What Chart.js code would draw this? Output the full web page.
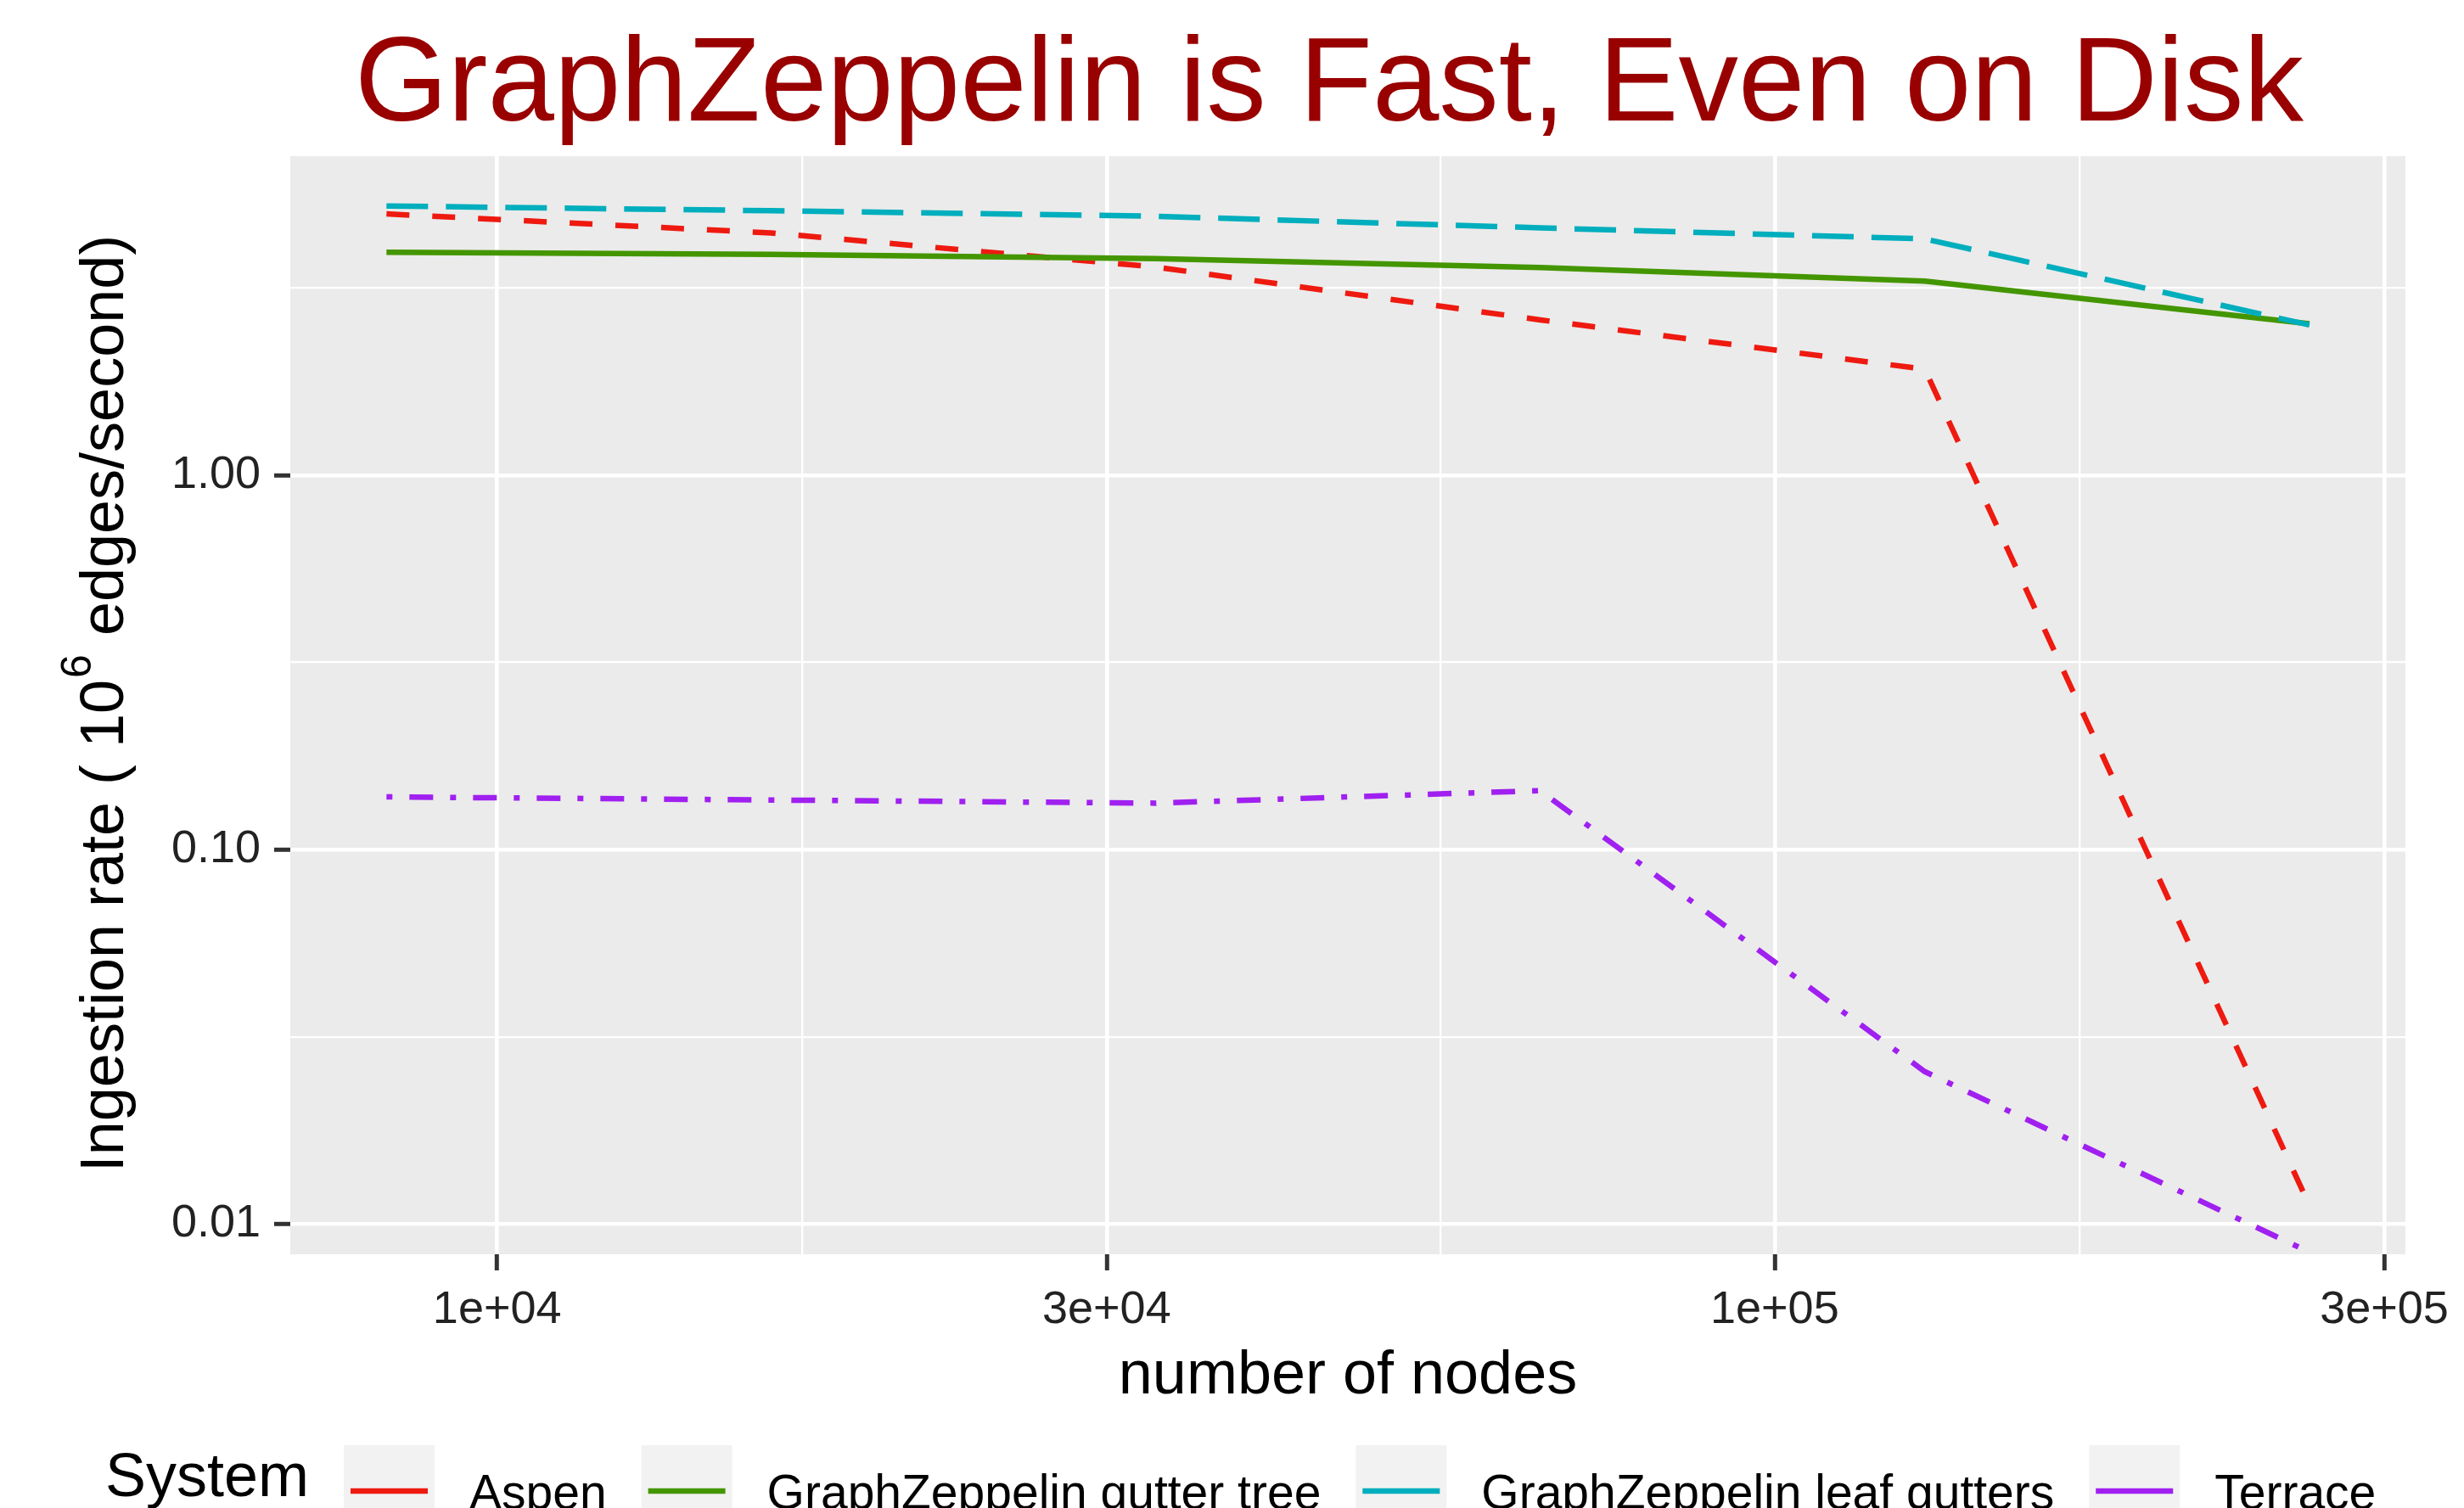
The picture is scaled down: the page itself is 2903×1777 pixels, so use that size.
<!DOCTYPE html>
<html>
<head>
<meta charset="utf-8">
<title>GraphZeppelin is Fast, Even on Disk</title>
<script src="https://cdn.jsdelivr.net/npm/chart.js@4.4.0/dist/chart.umd.min.js"></script>
<style>
  html, body { margin: 0; padding: 0; background: #fff; overflow: hidden; }
  #wrap { width: 2903px; height: 1777px; }
</style>
</head>
<body>
<div id="wrap"><canvas id="zChart" width="2903" height="1777"></canvas></div>
<script>
// data (x = number of nodes, y = 10^6 edges/second)
var nodes = [8192, 16384, 32768, 65536, 131072, 262144];
var aspen = [4.99, 4.44, 3.60, 2.60, 1.92, 0.0112];
var gutterTree = [3.94, 3.89, 3.79, 3.59, 3.30, 2.54];
var leafGutters = [5.24, 5.09, 4.92, 4.58, 4.28, 2.52];
var terrace = [0.1382, 0.1356, 0.1330, 0.1436, 0.0255, 0.0084];

var systems = ['Aspen', 'GraphZeppelin gutter tree', 'GraphZeppelin leaf gutters', 'Terrace'];

// axis breaks
var xMajor = [1e4, 3e4, 1e5, 3e5];
var xLabels = ['1e+04', '3e+04', '1e+05', '3e+05'];
var xMinor = [17320, 54772, 173205];
var yMajor = [0.01, 0.1, 1];
var yLabels = ['0.01', '0.10', '1.00'];
var yMinor = [0.0316, 0.316, 3.16];

var titleText = 'GraphZeppelin is Fast, Even on Disk';
var xTitle = 'number of nodes';
var yTitle = ['Ingestion rate ( 10', '6', ' edges/second)'];
var legendTitle = 'System';

const FONT = '"Liberation Sans", Arial, Helvetica, sans-serif';
Chart.defaults.font.family = FONT;

function pts(arr) {
  return nodes.map(function (n, i) { return { x: n, y: arr[i] }; });
}

// builds the tick list: majors + minors
function setTicks(major, minor) {
  return function (scale) {
    scale.ticks = major.concat(minor).sort(function (a, b) { return a - b; })
      .map(function (v) { return { value: v }; });
  };
}

function gridFor(minor) {
  return {
    color: '#FFFFFF',
    lineWidth: function (c) { return (c.tick && minor.indexOf(c.tick.value) >= 0) ? 2.3 : 4.6; },
    tickColor: function (c) { return (c.tick && minor.indexOf(c.tick.value) >= 0) ? 'rgba(0,0,0,0)' : '#333333'; },
    tickWidth: 5,
    tickLength: 19,
    drawTicks: true
  };
}

//panel background + texts + legend
const decor = {
  id: 'decor',
  beforeDraw(chart) {
    const ctx = chart.ctx, a = chart.chartArea;
    ctx.save();
    ctx.fillStyle = '#FFFFFF';
    ctx.fillRect(0, 0, chart.width, chart.height);
    ctx.fillStyle = '#EBEBEB';
    ctx.fillRect(a.left, a.top, a.right - a.left, a.bottom - a.top);
    ctx.restore();
  },
  afterDraw(chart) {
    const ctx = chart.ctx, a = chart.chartArea;
    ctx.save();
    ctx.textBaseline = 'alphabetic';

    // title
    ctx.fillStyle = '#990000';
    ctx.font = '141px ' + FONT;
    ctx.textAlign = 'center';
    ctx.fillText(titleText, 1566, 142);

    // x title
    ctx.fillStyle = '#000000';
    ctx.font = '72px ' + FONT;
    ctx.fillText(xTitle, (a.left + a.right) / 2, 1642);

    // y title with superscript
    const big = '72px ' + FONT, small = '50px ' + FONT;
    ctx.font = big;
    const w1 = ctx.measureText(yTitle[0]).width;
    const w3 = ctx.measureText(yTitle[2]).width;
    ctx.font = small;
    const w2 = ctx.measureText(yTitle[1]).width;
    ctx.save();
    ctx.translate(145, (a.top + a.bottom) / 2);
    ctx.rotate(-Math.PI / 2);
    ctx.textAlign = 'left';
    let x0 = -(w1 + w2 + w3) / 2;
    ctx.font = big;
    ctx.fillText(yTitle[0], x0, 0);
    ctx.font = small;
    ctx.fillText(yTitle[1], x0 + w1 + 2, -38);
    ctx.font = big;
    ctx.fillText(yTitle[2], x0 + w1 + w2 + 4, 0);
    ctx.restore();

    // legend
    ctx.textAlign = 'left';
    ctx.fillStyle = '#000000';
    ctx.font = '72px ' + FONT;
    ctx.fillText(legendTitle, 124, 1763);
    ctx.font = '57px ' + FONT;
    let kx = 405;
    chart.data.datasets.forEach(function (ds) {
      ctx.fillStyle = '#F2F2F2';
      ctx.fillRect(kx, 1703, 107, 107);
      ctx.strokeStyle = ds.borderColor;
      ctx.lineWidth = 6.5;
      ctx.setLineDash([]);
      ctx.beginPath();
      ctx.moveTo(kx + 8, 1757);
      ctx.lineTo(kx + 99, 1757);
      ctx.stroke();
      ctx.fillStyle = '#000000';
      const tx = kx + 107 + 41;
      ctx.fillText(ds.label, tx, 1778);
      kx = tx + ctx.measureText(ds.label).width + 41;
    });
    ctx.restore();
  }
};

function line(label, arr, color, dash, order) {
  return {
    label: label,
    data: pts(arr),
    borderColor: color,
    backgroundColor: color,
    borderWidth: 6.5,
    borderDash: dash,
    borderCapStyle: 'butt',
    borderJoinStyle: 'round',
    pointRadius: 0,
    pointHoverRadius: 0,
    tension: 0,
    fill: false,
    order: order
  };
}

const config = {
  type: 'line',
  data: {
    datasets: [
      line(systems[0], aspen, '#EE1A10', [27, 27], 3),
      line(systems[1], gutterTree, '#449600', [], 2),
      line(systems[2], leafGutters, '#00AEBD', [49, 21], 1),
      line(systems[3], terrace, '#A020F0', [7, 20, 28, 20], 0)
    ]
  },
  options: {
    responsive: false,
    animation: false,
    devicePixelRatio: 1,
    layout: { padding: { top: 184, right: 69, left: 0, bottom: 0 } },
    plugins: {
      legend: { display: false },
      title: { display: false },
      tooltip: { enabled: false }
    },
    scales: {
      x: {
        type: 'logarithmic',
        min: 6888,
        max: 311700,
        afterBuildTicks: setTicks(xMajor, xMinor),
        afterFit: function (s) { s.height = 299; },
        border: { display: false },
        grid: gridFor(xMinor),
        ticks: {
          autoSkip: false,
          maxRotation: 0,
          padding: 15,
          color: '#222222',
          font: { size: 54 },
          callback: function (v) {
            var i = xMajor.indexOf(v);
            return i >= 0 ? xLabels[i] : '';
          }
        }
      },
      y: {
        type: 'logarithmic',
        min: 0.00829,
        max: 7.12,
        afterBuildTicks: setTicks(yMajor, yMinor),
        afterFit: function (s) { s.width = 342; },
        border: { display: false },
        grid: gridFor(yMinor),
        ticks: {
          autoSkip: false,
          padding: 16,
          color: '#222222',
          font: { size: 54 },
          callback: function (v) {
            var i = yMajor.indexOf(v);
            return i >= 0 ? yLabels[i] : '';
          }
        }
      }
    }
  },
  plugins: [decor]
};

var zChart = new Chart(document.getElementById('zChart'), config);
</script>
</body>
</html>
